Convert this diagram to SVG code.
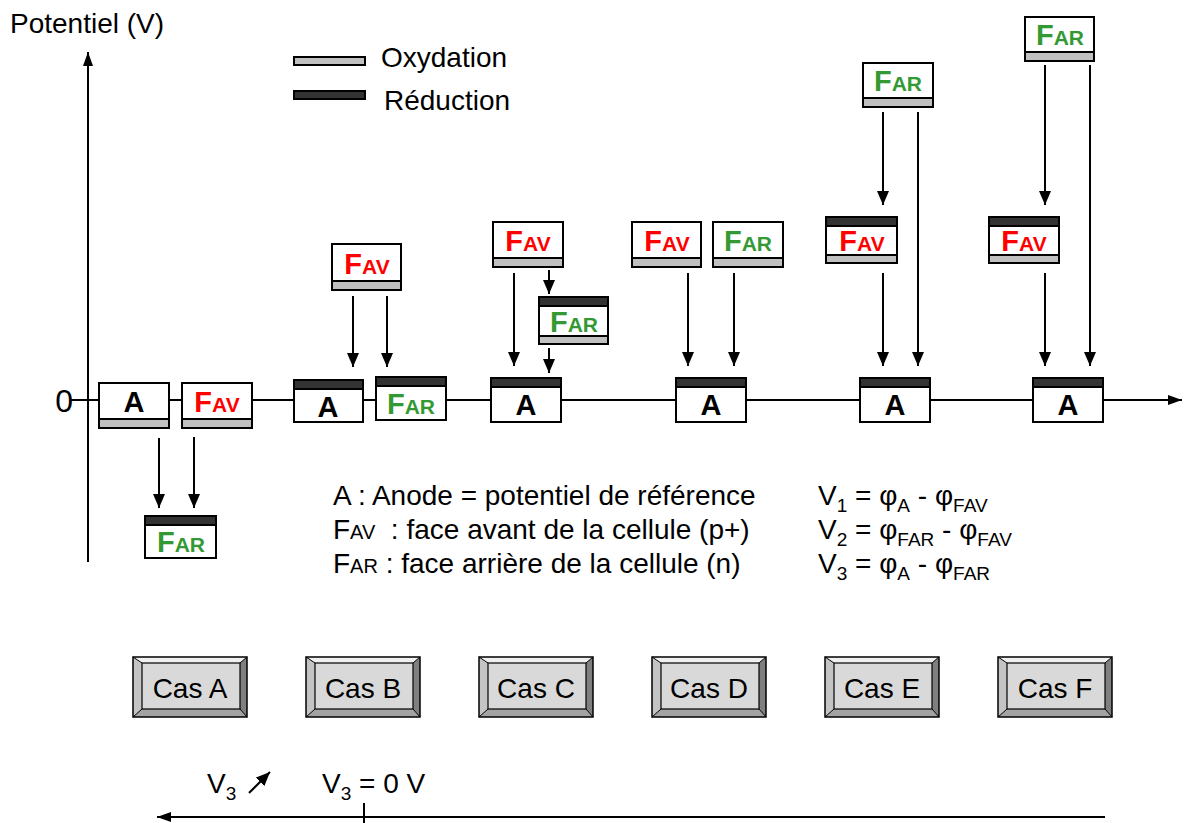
<svg xmlns="http://www.w3.org/2000/svg" xmlns:xlink="http://www.w3.org/1999/xlink" width="1184" height="823" viewBox="0 0 1184 823">
<style>
text{font-family:"Liberation Sans",Arial,sans-serif;fill:#000}
.t{font-size:28px}
.lbl{font-weight:bold;text-anchor:middle}
.big{font-size:29px}
.sm{font-size:21px}
.red{fill:#ff0000}
.grn{fill:#339933}
.box{fill:#fff;stroke:#000;stroke-width:2}
.ox{fill:#c0c0c0;stroke:#000;stroke-width:2}
.rd{fill:#333;stroke:#000;stroke-width:2}
.ax{stroke:#000;stroke-width:2;fill:none}
.cn{stroke:#000;stroke-width:2;fill:none;marker-end:url(#ah)}
.bt{font-size:28px;text-anchor:middle}
</style>
<defs>
<marker id="ah" markerUnits="userSpaceOnUse" markerWidth="14" markerHeight="12" refX="14" refY="6" orient="auto">
<path d="M0,0 L14,6 L0,12 z" fill="#000"/>
</marker>
<marker id="ax" markerUnits="userSpaceOnUse" markerWidth="14" markerHeight="10" refX="14" refY="5" orient="auto">
<path d="M0,0 L14,5 L0,10 z" fill="#000"/>
</marker>
<g id="btn">
<rect x="0" y="0" width="114" height="60" fill="#d9d9d9"/>
<polygon points="0,0 114,0 107,6 9,6" fill="#f0f0f0"/>
<polygon points="0,0 9,6 9,52 0,60" fill="#c4c4c4"/>
<polygon points="114,0 114,60 107,52 107,6" fill="#7f7f7f"/>
<polygon points="0,60 114,60 107,52 9,52" fill="#a3a3a3"/>
<rect x="9" y="6" width="98" height="46" fill="#d9d9d9" stroke="#000" stroke-width="1.2"/>
<path d="M0,0 L9,6 M114,0 L107,6 M114,60 L107,52 M0,60 L9,52" stroke="#000" stroke-width="1"/>
<rect x="0" y="0" width="114" height="60" fill="none" stroke="#000" stroke-width="1.5"/>
</g>
</defs>
<rect width="1184" height="823" fill="#fff"/>

<g id="axes">
<line class="ax" x1="88" y1="562" x2="88" y2="52" marker-end="url(#ax)"/>
<line class="ax" x1="70" y1="400" x2="1182" y2="400" marker-end="url(#ax)"/>
<text class="t" x="10" y="33">Potentiel (V)</text>
<text x="73" y="412" font-size="32" text-anchor="end">0</text>
</g>

<g id="legend">
<rect class="ox" x="294" y="57" width="71" height="8" stroke-width="1.5"/>
<rect class="rd" x="294" y="91" width="71" height="8" stroke-width="1.5"/>
<text class="t" x="381" y="67">Oxydation</text>
<text class="t" x="384" y="110">Réduction</text>
</g>

<g id="connectors">
<line class="cn" x1="159" y1="438" x2="159" y2="508"/>
<line class="cn" x1="194" y1="437" x2="194" y2="508"/>
<line class="cn" x1="353" y1="296" x2="353" y2="367"/>
<line class="cn" x1="387" y1="296" x2="387" y2="367"/>
<line class="cn" x1="514" y1="273" x2="514" y2="366"/>
<line class="cn" x1="549" y1="270" x2="549" y2="294"/>
<line class="cn" x1="549" y1="348" x2="549" y2="373"/>
<line class="cn" x1="688" y1="273" x2="688" y2="366"/>
<line class="cn" x1="734" y1="273" x2="734" y2="366"/>
<line class="cn" x1="883" y1="112" x2="883" y2="205"/>
<line class="cn" x1="918" y1="112" x2="918" y2="366"/>
<line class="cn" x1="883" y1="273" x2="883" y2="366"/>
<line class="cn" x1="1045" y1="65" x2="1045" y2="205"/>
<line class="cn" x1="1090" y1="65" x2="1090" y2="366"/>
<line class="cn" x1="1045" y1="273" x2="1045" y2="366"/>
</g>

<!-- Cas A -->
<g id="A_a">
<rect class="box" x="99" y="383" width="70" height="45"/>
<rect class="ox" x="99" y="419" width="70" height="9"/>
<text class="lbl big" x="134" y="412">A</text>
</g>
<g id="FAV_a">
<rect class="box" x="182" y="383" width="70" height="45"/>
<rect class="ox" x="182" y="419" width="70" height="9"/>
<text class="lbl red" x="217" y="412"><tspan class="big red">F</tspan><tspan class="sm red">AV</tspan></text>
</g>
<g id="FAR_a">
<rect class="box" x="145" y="516" width="71" height="42"/>
<rect class="rd" x="145" y="516" width="71" height="9"/>
<text class="lbl grn" x="181" y="552"><tspan class="big grn">F</tspan><tspan class="sm grn">AR</tspan></text>
</g>

<!-- Cas B -->
<g id="FAV_b">
<rect class="box" x="332" y="244" width="69" height="46"/>
<rect class="ox" x="332" y="281" width="69" height="9"/>
<text class="lbl red" x="367" y="274"><tspan class="big red">F</tspan><tspan class="sm red">AV</tspan></text>
</g>
<g id="A_b">
<rect class="box" x="294" y="380" width="69" height="42"/>
<rect class="rd" x="294" y="380" width="69" height="9"/>
<text class="lbl big" x="328" y="417">A</text>
</g>
<g id="FAR_b">
<rect class="box" x="376" y="377" width="70" height="43"/>
<rect class="rd" x="376" y="377" width="70" height="9"/>
<text class="lbl grn" x="411" y="414"><tspan class="big grn">F</tspan><tspan class="sm grn">AR</tspan></text>
</g>

<!-- Cas C -->
<g id="FAV_c">
<rect class="box" x="493" y="222" width="70" height="45"/>
<rect class="ox" x="493" y="258" width="70" height="9"/>
<text class="lbl red" x="528" y="251"><tspan class="big red">F</tspan><tspan class="sm red">AV</tspan></text>
</g>
<g id="FAR_c">
<rect class="box" x="539" y="297" width="69" height="47"/>
<rect class="rd" x="539" y="297" width="69" height="9"/>
<rect class="ox" x="539" y="336" width="69" height="8"/>
<text class="lbl grn" x="574" y="332"><tspan class="big grn">F</tspan><tspan class="sm grn">AR</tspan></text>
</g>
<g id="A_c">
<rect class="box" x="491" y="378" width="70" height="44"/>
<rect class="rd" x="491" y="378" width="70" height="9"/>
<text class="lbl big" x="526" y="415">A</text>
</g>

<!-- Cas D -->
<g id="FAV_d">
<rect class="box" x="632" y="222" width="69" height="45"/>
<rect class="ox" x="632" y="258" width="69" height="9"/>
<text class="lbl red" x="667" y="251"><tspan class="big red">F</tspan><tspan class="sm red">AV</tspan></text>
</g>
<g id="FAR_d">
<rect class="box" x="713" y="222" width="70" height="45"/>
<rect class="ox" x="713" y="258" width="70" height="9"/>
<text class="lbl grn" x="748" y="251"><tspan class="big grn">F</tspan><tspan class="sm grn">AR</tspan></text>
</g>
<g id="A_d">
<rect class="box" x="676" y="378" width="70" height="44"/>
<rect class="rd" x="676" y="378" width="70" height="9"/>
<text class="lbl big" x="711" y="415">A</text>
</g>

<!-- Cas E -->
<g id="FAR_e">
<rect class="box" x="863" y="63" width="70" height="44"/>
<rect class="ox" x="863" y="98" width="70" height="9"/>
<text class="lbl grn" x="898" y="91"><tspan class="big grn">F</tspan><tspan class="sm grn">AR</tspan></text>
</g>
<g id="FAV_e">
<rect class="box" x="826" y="217" width="71" height="46"/>
<rect class="rd" x="826" y="217" width="71" height="9"/>
<rect class="ox" x="826" y="255" width="71" height="8"/>
<text class="lbl red" x="862" y="251"><tspan class="big red">F</tspan><tspan class="sm red">AV</tspan></text>
</g>
<g id="A_e">
<rect class="box" x="860" y="378" width="70" height="44"/>
<rect class="rd" x="860" y="378" width="70" height="9"/>
<text class="lbl big" x="895" y="415">A</text>
</g>

<!-- Cas F -->
<g id="FAR_f">
<rect class="box" x="1025" y="17" width="69" height="44"/>
<rect class="ox" x="1025" y="52" width="69" height="9"/>
<text class="lbl grn" x="1060" y="45"><tspan class="big grn">F</tspan><tspan class="sm grn">AR</tspan></text>
</g>
<g id="FAV_f">
<rect class="box" x="989" y="217" width="70" height="46"/>
<rect class="rd" x="989" y="217" width="70" height="9"/>
<rect class="ox" x="989" y="255" width="70" height="8"/>
<text class="lbl red" x="1024" y="251"><tspan class="big red">F</tspan><tspan class="sm red">AV</tspan></text>
</g>
<g id="A_f">
<rect class="box" x="1033" y="378" width="70" height="44"/>
<rect class="rd" x="1033" y="378" width="70" height="9"/>
<text class="lbl big" x="1068" y="415">A</text>
</g>

<g id="definitions">
<text class="t" x="333" y="505">A : Anode = potentiel de référence</text>
<text class="t" x="333" y="539">F<tspan font-size="20">AV</tspan>&#160; : face avant de la cellule (p+)</text>
<text class="t" x="333" y="573">F<tspan font-size="20">AR</tspan> : face arrière de la cellule (n)</text>
</g>
<g id="formulas">
<text class="t" x="818" y="505">V<tspan font-size="19" dy="7">1</tspan><tspan dy="-7"> = φ</tspan><tspan font-size="19" dy="7">A</tspan><tspan dy="-7"> - φ</tspan><tspan font-size="19" dy="7">FAV</tspan></text>
<text class="t" x="818" y="539">V<tspan font-size="19" dy="7">2</tspan><tspan dy="-7"> = φ</tspan><tspan font-size="19" dy="7">FAR</tspan><tspan dy="-7"> - φ</tspan><tspan font-size="19" dy="7">FAV</tspan></text>
<text class="t" x="818" y="573">V<tspan font-size="19" dy="7">3</tspan><tspan dy="-7"> = φ</tspan><tspan font-size="19" dy="7">A</tspan><tspan dy="-7"> - φ</tspan><tspan font-size="19" dy="7">FAR</tspan></text>
</g>

<g id="casA"><use xlink:href="#btn" x="133" y="657"/><text class="bt" x="190" y="698">Cas A</text></g>
<g id="casB"><use xlink:href="#btn" x="306" y="657"/><text class="bt" x="363" y="698">Cas B</text></g>
<g id="casC"><use xlink:href="#btn" x="479" y="657"/><text class="bt" x="536" y="698">Cas C</text></g>
<g id="casD"><use xlink:href="#btn" x="652" y="657"/><text class="bt" x="709" y="698">Cas D</text></g>
<g id="casE"><use xlink:href="#btn" x="825" y="657"/><text class="bt" x="882" y="698">Cas E</text></g>
<g id="casF"><use xlink:href="#btn" x="998" y="657"/><text class="bt" x="1055" y="698">Cas F</text></g>

<g id="bottom">
<line class="ax" x1="1105" y1="817" x2="157" y2="817" marker-end="url(#ax)"/>
<line class="ax" x1="364" y1="803" x2="364" y2="823"/>
<text class="t" x="207" y="793">V<tspan font-size="19" dy="7">3</tspan></text>
<line x1="249" y1="793" x2="270" y2="772" stroke="#000" stroke-width="2" marker-end="url(#ah)"/>
<text class="t" x="322" y="793">V<tspan font-size="19" dy="7">3</tspan><tspan dy="-7"> = 0 V</tspan></text>
</g>
</svg>
